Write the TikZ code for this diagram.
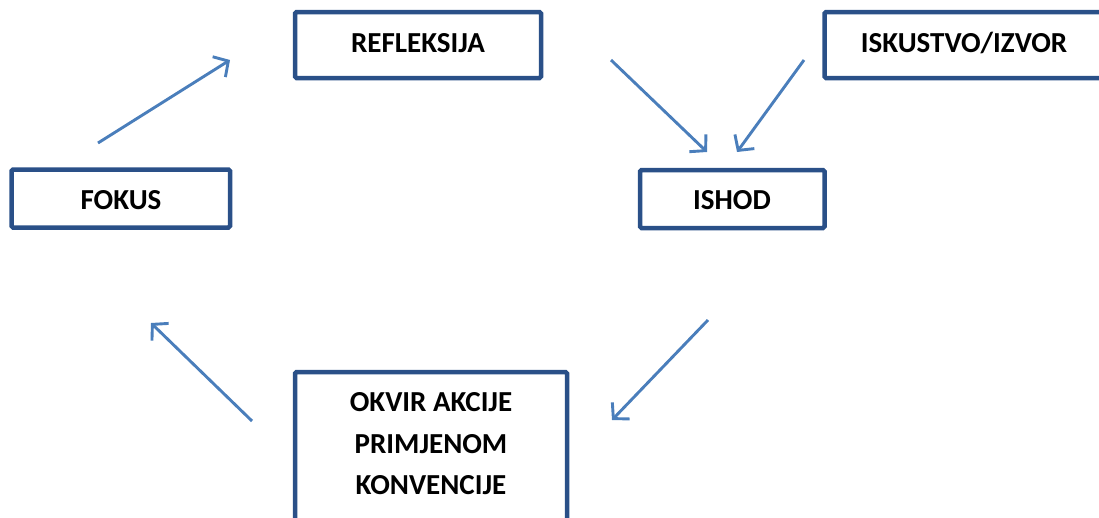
\documentclass[tikz,border=0pt]{standalone}
\usepackage{fontspec}
\setmainfont{Carlito}
\usetikzlibrary{arrows.meta}
\definecolor{boxblue}{HTML}{2A5088}
\definecolor{arrblue}{HTML}{4A7EBB}
\begin{document}
\begin{tikzpicture}[x=1pt,y=-1pt,
  box/.style={draw=boxblue, line width=4.5pt, rounded corners=1.5pt, fill=white},
  lbl/.style={font=\fontsize{29}{41.5}\selectfont\bfseries, align=center, text=black},
  conn/.style={draw=arrblue, line width=2.9pt, -{Straight Barb[length=11pt,width=24pt,line width=2.9pt]}}]
\useasboundingbox (0,0) rectangle (1099,517);
\clip (0,0) rectangle (1099,517);
% boxes
\draw[box] (295,12) rectangle (541,78);
\node[lbl] (refl) at (418,43) {REFLEKSIJA};
\draw[box] (824.5,12) rectangle (1104,78);
\node[lbl] (isk) at (964,43) {ISKUSTVO/IZVOR};
\draw[box] (11.5,169.5) rectangle (230,227.5);
\node[lbl] (fok) at (121,200) {FOKUS};
\draw[box] (640,170) rectangle (824.5,228);
\node[lbl] (ishod) at (732,200) {ISHOD};
\draw[box] (295,372) rectangle (567,560);
\node[lbl] (okvir) at (431,444) {OKVIR AKCIJE\\PRIMJENOM\\KONVENCIJE};
% arrow end points
\coordinate (a1s) at (98,143);  \coordinate (a1e) at (230,60);
\coordinate (a2s) at (611,60);  \coordinate (a2e) at (707,152);
\coordinate (a3s) at (804,60);  \coordinate (a3e) at (737,152);
\coordinate (a4s) at (708,320); \coordinate (a4e) at (612,420);
\coordinate (a5s) at (252,421); \coordinate (a5e) at (151,323);
\draw[conn] (a1s) -- (a1e);
\draw[conn] (a2s) -- (a2e);
\draw[conn] (a3s) -- (a3e);
\draw[conn] (a4s) -- (a4e);
\draw[conn] (a5s) -- (a5e);
\end{tikzpicture}
\end{document}
